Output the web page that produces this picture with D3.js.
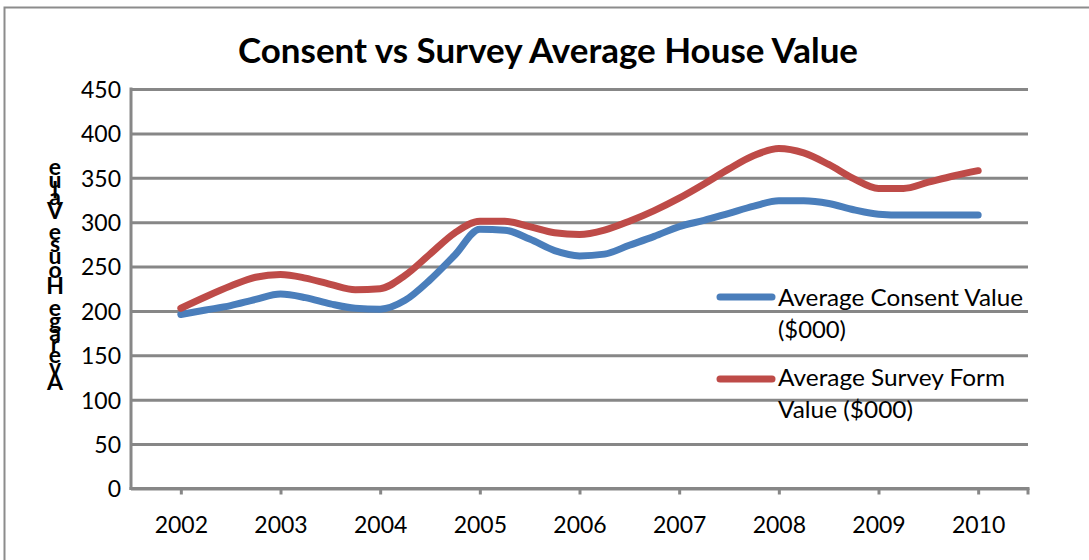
<!DOCTYPE html>
<html>
<head>
<meta charset="utf-8">
<script src="https://cdn.jsdelivr.net/npm/d3@7"></script>
<style>
  html, body { margin: 0; padding: 0; background: #ffffff; }
  svg { display: block; }
  text { font-family: Lato, "Open Sans", "Liberation Sans", sans-serif; fill: #000; }
</style>
</head>
<body>
<svg id="chart" width="1089" height="560"></svg>
<script>
// ---- data ----
const title = "Consent vs Survey Average House Value";
const yAxisTitle = "Average House Value";
const periods = [2002, 2002.25, 2002.5, 2002.75, 2003, 2003.25, 2003.5, 2003.75,
                 2004, 2004.25, 2004.5, 2004.75, 2005, 2005.25, 2005.5, 2005.75,
                 2006, 2006.25, 2006.5, 2006.75, 2007, 2007.25, 2007.5, 2007.75,
                 2008, 2008.25, 2008.5, 2008.75, 2009, 2009.25, 2009.5, 2009.75, 2010];
const consentValues = [196, 201, 206, 213, 219, 215, 208, 203,
                       202, 212, 235, 263, 292, 291, 281, 268,
                       262, 264, 274, 284, 295, 302, 310, 318,
                       324, 324, 321, 314, 309, 308, 308, 308, 308];
const surveyValues  = [203, 216, 228, 238, 241, 237, 230, 224,
                       225, 240, 264, 288, 301, 301, 295, 288,
                       286, 291, 301, 313, 327, 343, 360, 375,
                       383, 378, 365, 349, 338, 338, 345, 352, 358];
const seriesNames = ["Average Consent Value ($000)", "Average Survey Form Value ($000)"];
const legendLines = [["Average Consent Value", "($000)"], ["Average Survey Form", "Value ($000)"]];
const yTicks = [0, 50, 100, 150, 200, 250, 300, 350, 400, 450];
const xTicks = [2002, 2003, 2004, 2005, 2006, 2007, 2008, 2009, 2010];
const colors = ["#4a7ebb", "#be4b48"];

// ---- layout ----
const svg = d3.select("#chart");
const plot = {left: 131, right: 1028, top: 89, bottom: 488.5};
const x = d3.scaleLinear().domain([2001.5, 2010.5]).range([plot.left, plot.right]);
const y = d3.scaleLinear().domain([0, 450]).range([plot.bottom, plot.top]);
const gridColor = "#878787";

// outer border
svg.append("rect").attr("x", 4.5).attr("y", 7.5).attr("width", 1200).attr("height", 700)
  .attr("fill", "none").attr("stroke", "#8c8c8c").attr("stroke-width", 2);

// title
svg.append("text").attr("x", 548).attr("y", 63).attr("text-anchor", "middle")
  .style("font-weight", "bold").style("font-size", "34px")
  .attr("textLength", 620).attr("lengthAdjust", "spacingAndGlyphs")
  .text(title);

// y axis with gridlines
const yAxis = d3.axisLeft(y).tickValues(yTicks).tickSize(-(plot.right - plot.left)).tickPadding(10).tickFormat(d3.format("d"));
const gy = svg.append("g").attr("transform", `translate(${plot.left},0)`).call(yAxis);
gy.select(".domain").remove();
gy.selectAll(".tick line").attr("stroke", gridColor).attr("stroke-width", 3);
gy.selectAll(".tick text").style("font-size", "23px").attr("x", -10).attr("dy", "0.36em");

// left axis line
svg.append("line").attr("x1", plot.left).attr("x2", plot.left)
  .attr("y1", plot.top - 1.5).attr("y2", plot.bottom + 1.5)
  .attr("stroke", gridColor).attr("stroke-width", 3);

// x axis
const xAxis = d3.axisBottom(x).tickValues(xTicks).tickSize(6).tickPadding(22).tickFormat(d3.format("d"));
const gx = svg.append("g").attr("transform", `translate(0,${plot.bottom})`).call(xAxis);
gx.select(".domain").remove();
gx.selectAll(".tick line").attr("stroke", gridColor).attr("stroke-width", 3);
gx.selectAll(".tick text").style("font-size", "23px");
svg.append("line").attr("x1", plot.left - 1.5).attr("x2", plot.right + 1.5)
  .attr("y1", plot.bottom).attr("y2", plot.bottom)
  .attr("stroke", gridColor).attr("stroke-width", 3);
svg.append("line").attr("x1", plot.right).attr("x2", plot.right)
  .attr("y1", plot.bottom).attr("y2", plot.bottom + 6)
  .attr("stroke", gridColor).attr("stroke-width", 3);

// y axis title: upright glyphs stacked bottom-to-top, in one text element
(function () {
  const chars = Array.from(yAxisTitle);
  const probe = svg.append("text").style("font-weight", "bold").style("font-size", "23px");
  const starts = [], widths = [];
  for (let i = 0; i < chars.length; i++) {
    probe.text(yAxisTitle.slice(0, i).replace(/ /g, "\u00a0"));
    starts.push(i === 0 ? 0 : probe.node().getComputedTextLength());
    probe.text(chars[i] === " " ? "\u00a0" : chars[i]);
    widths.push(probe.node().getComputedTextLength());
  }
  probe.remove();
  const total = starts[chars.length - 1] + widths[chars.length - 1];
  const bottom = 390, top = 160;
  const k = (bottom - top) / total;
  const t = svg.append("text").attr("class", "ytitle")
    .style("font-weight", "bold").style("font-size", "23px");
  chars.forEach((c, i) => {
    const center = bottom - (starts[i] + widths[i] / 2) * k;
    t.append("tspan").attr("x", 55).attr("y", center + 8)
      .attr("text-anchor", "middle")
      .text(c === " " ? "\u00a0" : c);
  });
})();

// lines
const series = [consentValues, surveyValues];
const line = d3.line().x((d, i) => x(periods[i])).y(d => y(d)).curve(d3.curveMonotoneX);
series.forEach((vals, s) => {
  svg.append("path").datum(vals).attr("d", line)
    .attr("fill", "none").attr("stroke", colors[s]).attr("stroke-width", 7)
    .attr("stroke-linejoin", "round").attr("stroke-linecap", "round");
});

// legend
const legendY = [297, 379];
const legendBase = [[306, 338], [386, 418]];
const legendWidths = [[245, 68], [227, 135]];
legendLines.forEach((lines, s) => {
  svg.append("line").attr("x1", 720).attr("x2", 772).attr("y1", legendY[s]).attr("y2", legendY[s])
    .attr("stroke", colors[s]).attr("stroke-width", 7).attr("stroke-linecap", "round");
  lines.forEach((t, j) => {
    svg.append("text").attr("x", 778).attr("y", legendBase[s][j])
      .style("font-size", "23px")
      .attr("textLength", legendWidths[s][j]).attr("lengthAdjust", "spacingAndGlyphs")
      .text(t);
  });
});
</script>
</body>
</html>
